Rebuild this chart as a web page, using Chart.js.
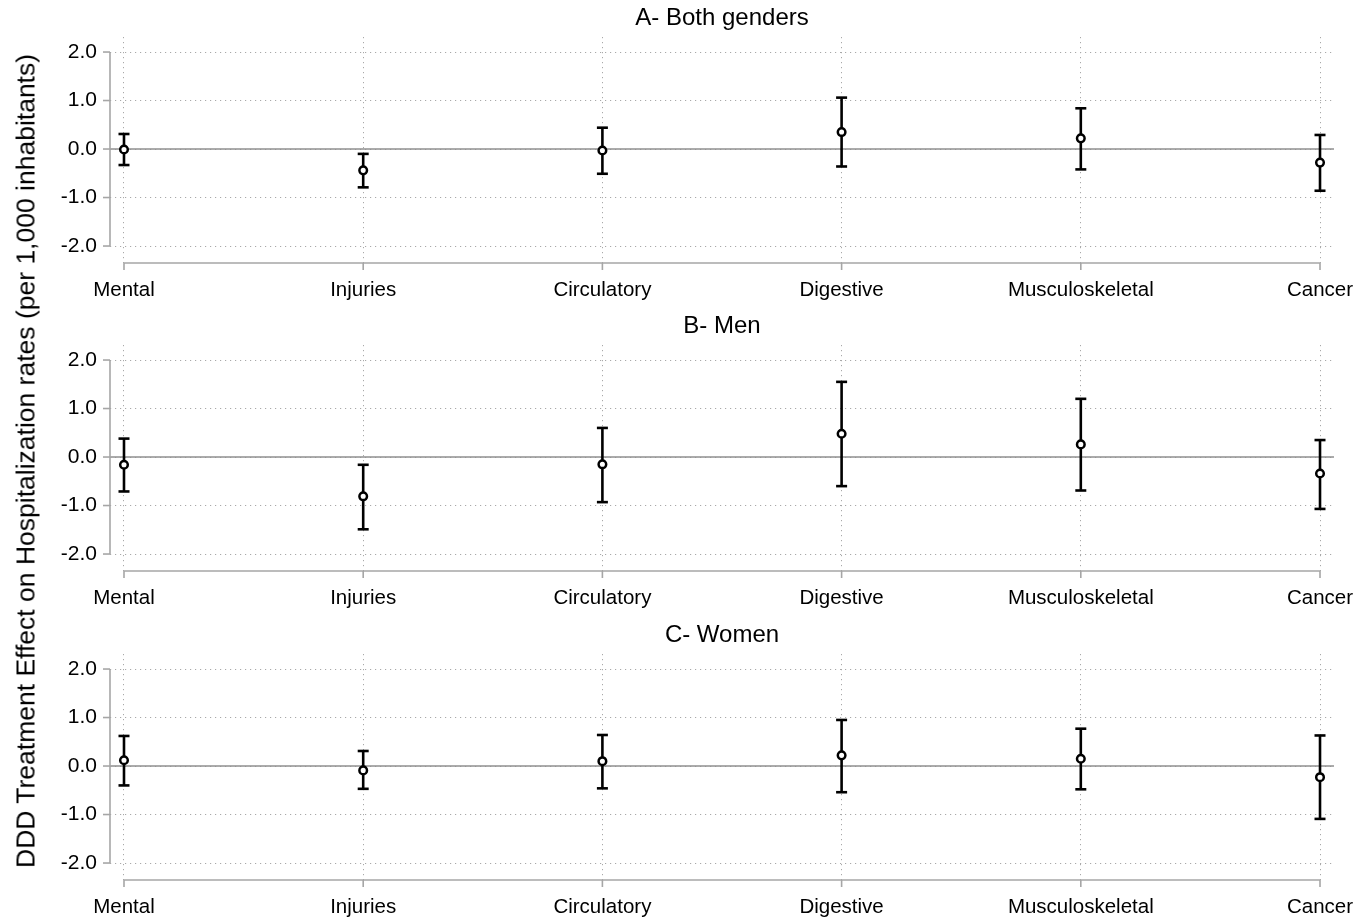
<!DOCTYPE html>
<html>
<head>
<meta charset="utf-8">
<script src="https://cdn.jsdelivr.net/npm/chart.js@4.4.1/dist/chart.umd.min.js"></script>
<style>
  html, body { margin: 0; padding: 0; background: #ffffff; }
  body { width: 1359px; height: 922px; position: relative; overflow: hidden; font-family: "Liberation Sans", Arial, sans-serif; }
  .panel { position: absolute; left: 0; width: 1359px; height: 308px; }
  #ytitle {
    position: absolute; left: 26px; top: 461px;
    transform: translate(-50%, -50%) rotate(-90deg);
    white-space: nowrap; font-size: 26.5px; color: #000;
    font-family: "Liberation Sans", Arial, sans-serif;
  }
</style>
</head>
<body>
<div class="panel" style="top:0px"><canvas id="c0" width="1359" height="308"></canvas></div>
<div class="panel" style="top:308px"><canvas id="c1" width="1359" height="308"></canvas></div>
<div class="panel" style="top:617px"><canvas id="c2" width="1359" height="308"></canvas></div>
<div id="ytitle">DDD Treatment Effect on Hospitalization rates (per 1,000 inhabitants)</div>
<script>
// ---- data ----
const categories = ["Mental", "Injuries", "Circulatory", "Digestive", "Musculoskeletal", "Cancer"];
const yTicks = [-2, -1, 0, 1, 2];
const panelTitles = ["A- Both genders", "B- Men", "C- Women"];

const estBoth  = [-0.01, -0.44, -0.03, 0.35, 0.22, -0.28];
const lowBoth  = [-0.33, -0.79, -0.51, -0.36, -0.42, -0.86];
const highBoth = [0.31, -0.10, 0.44, 1.06, 0.84, 0.29];

const estMen  = [-0.16, -0.81, -0.15, 0.48, 0.26, -0.34];
const lowMen  = [-0.71, -1.49, -0.93, -0.60, -0.69, -1.07];
const highMen = [0.38, -0.16, 0.60, 1.55, 1.20, 0.35];

const estWomen  = [0.12, -0.09, 0.10, 0.22, 0.15, -0.23];
const lowWomen  = [-0.40, -0.47, -0.46, -0.54, -0.48, -1.09];
const highWomen = [0.62, 0.31, 0.64, 0.95, 0.77, 0.63];

const panels = [
  { title: panelTitles[0], est: estBoth, low: lowBoth, high: highBoth },
  { title: panelTitles[1], est: estMen, low: lowMen, high: highMen },
  { title: panelTitles[2], est: estWomen, low: lowWomen, high: highWomen }
];

// ---- drawing ----
const FONT = '"Liberation Sans", Arial, sans-serif';
const axisGray = '#a6a6a6';
const dotGray = '#a9a9a9';

const stataPlugin = {
  id: 'stata',
  beforeDatasetsDraw(chart) {
    const ctx = chart.ctx;
    const xs = chart.scales.x, ys = chart.scales.y;
    const area = chart.chartArea;
    ctx.save();
    // zero line
    ctx.strokeStyle = '#8f8f8f';
    ctx.lineWidth = 1.6;
    const y0 = ys.getPixelForValue(0);
    ctx.beginPath(); ctx.moveTo(area.left, y0); ctx.lineTo(area.right, y0); ctx.stroke();
    // y axis line and ticks
    ctx.strokeStyle = axisGray;
    ctx.lineWidth = 1.6;
    const yTop = ys.getPixelForValue(yTicks[yTicks.length - 1]);
    const yBot = ys.getPixelForValue(yTicks[0]);
    ctx.beginPath(); ctx.moveTo(area.left, yTop); ctx.lineTo(area.left, yBot); ctx.stroke();
    yTicks.forEach(v => {
      const p = ys.getPixelForValue(v);
      ctx.beginPath(); ctx.moveTo(area.left - 7, p); ctx.lineTo(area.left, p); ctx.stroke();
    });
    // x axis line and ticks
    const xa = xs.getPixelForValue(0), xb = xs.getPixelForValue(categories.length - 1);
    ctx.beginPath(); ctx.moveTo(xa, area.bottom); ctx.lineTo(xb, area.bottom); ctx.stroke();
    categories.forEach((c, i) => {
      const p = xs.getPixelForValue(i);
      ctx.beginPath(); ctx.moveTo(p, area.bottom); ctx.lineTo(p, area.bottom + 7); ctx.stroke();
    });
    // error bars
    chart.data.datasets.forEach(ds => {
      ctx.strokeStyle = '#000';
      ctx.lineWidth = 2.6;
      ds.data.forEach((pt, i) => {
        const x = xs.getPixelForValue(pt.x);
        const yl = ys.getPixelForValue(ds.lows[i]);
        const yh = ys.getPixelForValue(ds.highs[i]);
        ctx.beginPath(); ctx.moveTo(x, yl); ctx.lineTo(x, yh); ctx.stroke();
        ctx.beginPath(); ctx.moveTo(x - 5.5, yl); ctx.lineTo(x + 5.5, yl); ctx.stroke();
        ctx.beginPath(); ctx.moveTo(x - 5.5, yh); ctx.lineTo(x + 5.5, yh); ctx.stroke();
      });
    });
    ctx.restore();
  }
};

panels.forEach((p, k) => {
  new Chart(document.getElementById('c' + k), {
    type: 'scatter',
    data: {
      datasets: [{
        data: p.est.map((v, i) => ({ x: i, y: v })),
        lows: p.low,
        highs: p.high,
        showLine: false,
        pointRadius: 3.8,
        pointHoverRadius: 3.8,
        pointBorderWidth: 2.5,
        pointBorderColor: '#000',
        pointBackgroundColor: '#fff'
      }]
    },
    options: {
      responsive: false,
      animation: false,
      devicePixelRatio: 1,
      layout: { padding: { left: 0, right: 25, top: 0, bottom: 0 } },
      plugins: {
        legend: { display: false },
        tooltip: { enabled: false },
        title: {
          display: true,
          text: p.title,
          fullSize: false,
          color: '#000',
          font: { family: FONT, size: 24, weight: 'normal' },
          padding: { top: 3.6, bottom: 4.6 }
        }
      },
      scales: {
        x: {
          type: 'linear',
          min: -0.0585,
          max: 5.0585,
          afterBuildTicks: s => { s.ticks = categories.map((c, i) => ({ value: i })); },
          afterFit: s => { s.height = 45; s.paddingLeft = 0; s.paddingRight = 0; },
          border: { display: false, dash: [1.2, 3.8] },
          grid: { color: dotGray, lineWidth: 1, drawTicks: false },
          ticks: {
            autoSkip: false, maxRotation: 0, padding: 15,
            color: '#000',
            font: { family: FONT, size: 20.5 },
            callback: v => categories[v]
          }
        },
        y: {
          min: -2.35,
          max: 2.31,
          afterBuildTicks: s => { s.ticks = yTicks.map(v => ({ value: v })); },
          afterFit: s => { s.width = 110; s.paddingTop = 0; s.paddingBottom = 0; },
          border: { display: false, dash: [1.2, 3.8] },
          grid: { color: dotGray, lineWidth: 1, drawTicks: false },
          ticks: {
            autoSkip: false, padding: 13,
            color: '#000',
            font: { family: FONT, size: 21 },
            callback: v => v.toFixed(1)
          }
        }
      }
    },
    plugins: [stataPlugin]
  });
});
</script>
</body>
</html>
